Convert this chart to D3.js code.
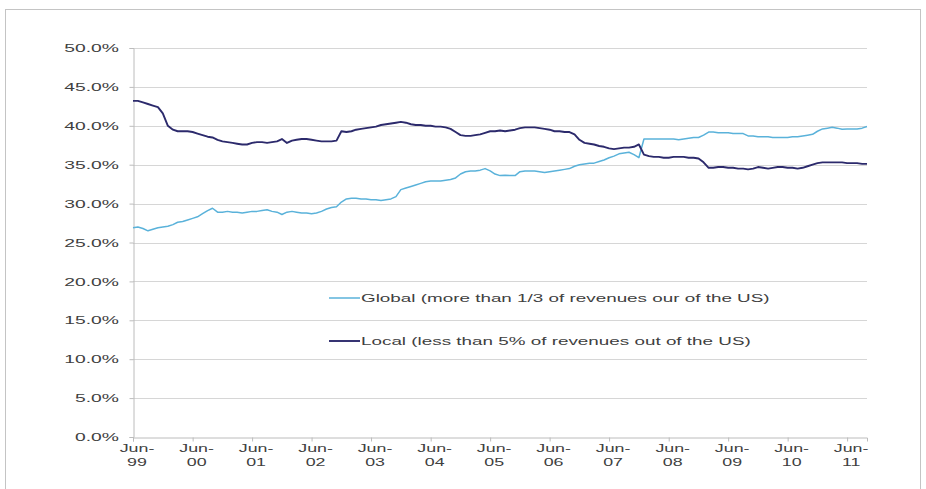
<!DOCTYPE html>
<html>
<head>
<meta charset="utf-8">
<script src="https://cdn.jsdelivr.net/npm/d3@7"></script>
<style>
  html, body { margin: 0; padding: 0; background: #fff; }
  svg { display: block; }
  text { font-family: "Liberation Sans", Arial, sans-serif; fill: #404040; }
</style>
</head>
<body>
<svg id="chart" width="926" height="489"></svg>
<script>
// Monthly series, Jun 1999 – Oct 2011 (share of total, in %)
const firstMonth = new Date(1999, 5, 1);
const lastMonth = new Date(2011, 9, 1);

const globalShare = [
  26.9, 27.0, 26.8, 26.5, 26.7, 26.9, 27.0, 27.1, 27.3, 27.6, 27.7, 27.9,
  28.1, 28.3, 28.7, 29.1, 29.4, 28.9, 28.9, 29.0, 28.9, 28.9, 28.8, 28.9,
  29.0, 29.0, 29.1, 29.2, 29.0, 28.9, 28.6, 28.9, 29.0, 28.9, 28.8, 28.8,
  28.7, 28.8, 29.0, 29.3, 29.5, 29.6, 30.2, 30.6, 30.7, 30.7, 30.6, 30.6,
  30.5, 30.5, 30.4, 30.5, 30.6, 30.9, 31.8, 32.0, 32.2, 32.4, 32.6, 32.8,
  32.9, 32.9, 32.9, 33.0, 33.1, 33.3, 33.8, 34.1, 34.2, 34.2, 34.3, 34.5,
  34.2, 33.8, 33.6, 33.65, 33.6, 33.6, 34.1, 34.2, 34.2, 34.2, 34.1, 34.0,
  34.1, 34.2, 34.3, 34.4, 34.5, 34.8, 35.0, 35.1, 35.2, 35.2, 35.4, 35.6,
  35.9, 36.1, 36.4, 36.5, 36.6, 36.3, 35.9, 38.3, 38.3, 38.3, 38.3, 38.3,
  38.3, 38.3, 38.2, 38.3, 38.4, 38.5, 38.5, 38.8, 39.2, 39.2, 39.1, 39.1,
  39.1, 39.0, 39.0, 39.0, 38.7, 38.7, 38.6, 38.6, 38.6, 38.5, 38.5, 38.5,
  38.5, 38.6, 38.6, 38.7, 38.8, 38.9, 39.3, 39.6, 39.7, 39.8, 39.7, 39.55,
  39.6, 39.6, 39.6, 39.7, 39.9
];

const localShare = [
  43.2, 43.2, 43.0, 42.8, 42.6, 42.4, 41.6, 40.0, 39.5, 39.3, 39.3, 39.3,
  39.2, 39.0, 38.8, 38.6, 38.5, 38.2, 38.0, 37.9, 37.8, 37.7, 37.6, 37.6,
  37.8, 37.9, 37.9, 37.8, 37.9, 38.0, 38.3, 37.8, 38.1, 38.2, 38.3, 38.3,
  38.2, 38.1, 38.0, 38.0, 38.0, 38.1, 39.3, 39.2, 39.3, 39.5, 39.6, 39.7,
  39.8, 39.9, 40.1, 40.2, 40.3, 40.4, 40.5, 40.4, 40.2, 40.1, 40.1, 40.0,
  40.0, 39.9, 39.9, 39.8, 39.6, 39.2, 38.8, 38.7, 38.7, 38.8, 38.9, 39.1,
  39.3, 39.3, 39.4, 39.3, 39.4, 39.5, 39.7, 39.8, 39.8, 39.8, 39.7, 39.6,
  39.5, 39.3, 39.3, 39.2, 39.2, 38.9, 38.2, 37.8, 37.7, 37.6, 37.4, 37.3,
  37.1, 37.0, 37.1, 37.2, 37.2, 37.3, 37.6, 36.3, 36.1, 36.0, 36.0, 35.9,
  35.9, 36.0, 36.0, 36.0, 35.9, 35.9, 35.8, 35.3, 34.6, 34.6, 34.7, 34.7,
  34.6, 34.6, 34.5, 34.5, 34.4, 34.5, 34.7, 34.6, 34.5, 34.6, 34.7, 34.7,
  34.6, 34.6, 34.5, 34.6, 34.8, 35.0, 35.2, 35.3, 35.3, 35.3, 35.3, 35.3,
  35.2, 35.2, 35.2, 35.1, 35.1
];

const seriesNames = [
  "Global (more than 1/3 of revenues our of the US)",
  "Local (less than 5% of revenues out of the US)"
];
const seriesColors = ["#5ab2da", "#2c2a6c"];

const yTickValues = [0, 5, 10, 15, 20, 25, 30, 35, 40, 45, 50];
const xTickLabels = [
  ["Jun-", "99"], ["Jun-", "00"], ["Jun-", "01"], ["Jun-", "02"], ["Jun-", "03"],
  ["Jun-", "04"], ["Jun-", "05"], ["Jun-", "06"], ["Jun-", "07"], ["Jun-", "08"],
  ["Jun-", "09"], ["Jun-", "10"], ["Jun-", "11"]
];

// ---- layout ----
const svg = d3.select("#chart");
const plot = { left: 133, right: 867, top: 48, bottom: 437 };
const labelSize = 11.5;
const wideY = 1.68;     // wide lettering on value labels
const wideLegend = 1.64;
const wideX = 1.55;     // wide lettering on date labels

const months = d3.timeMonth.range(firstMonth, d3.timeMonth.offset(lastMonth, 1));
const x = d3.scaleTime().domain([firstMonth, lastMonth]).range([plot.left, plot.right]);
const y = d3.scaleLinear().domain([0, 50]).range([plot.bottom, plot.top]);

// outer frame
svg.append("rect")
  .attr("x", 5.5).attr("y", 9.5)
  .attr("width", 915).attr("height", 490)
  .attr("fill", "none").attr("stroke", "#c4c4c4").attr("stroke-width", 1);

// horizontal gridlines
svg.append("g")
  .selectAll("line")
  .data(yTickValues.filter(v => v > 0))
  .join("line")
  .attr("x1", plot.left).attr("x2", plot.right)
  .attr("y1", d => Math.round(y(d)) + 0.5).attr("y2", d => Math.round(y(d)) + 0.5)
  .attr("stroke", "#d6d6d6").attr("stroke-width", 1);

// y axis with ticks
const yAxis = d3.axisLeft(y).tickValues(yTickValues).tickSize(4).tickFormat("");
const yAxisG = svg.append("g").attr("transform", `translate(${plot.left + 0.5},0)`).call(yAxis);
yAxisG.selectAll("path, line").attr("stroke", "#bcbcbc");

// y labels
const yFmt = d => d3.format(".1f")(d) + "%";
svg.append("g")
  .selectAll("text")
  .data(yTickValues)
  .join("text")
  .attr("transform", d => `translate(119,${y(d)}) scale(${wideY},1)`)
  .attr("text-anchor", "end")
  .attr("dy", "0.36em")
  .attr("font-size", labelSize)
  .text(yFmt);

// x axis with yearly ticks at June
const juneTicks = d3.range(xTickLabels.length).map(i => d3.timeYear.offset(firstMonth, i));
const xAxis = d3.axisBottom(x).tickValues(juneTicks).tickSize(4).tickFormat("");
const xAxisG = svg.append("g").attr("transform", `translate(0,${plot.bottom + 0.5})`).call(xAxis);
xAxisG.selectAll("path, line").attr("stroke", "#bcbcbc");

// x labels on two lines
const xLab = svg.append("g")
  .selectAll("g")
  .data(juneTicks)
  .join("g")
  .attr("transform", d => `translate(${x(d) + 4},0)`);
xLab.append("text")
  .attr("transform", `translate(0,452) scale(${wideX},1)`)
  .attr("text-anchor", "middle").attr("font-size", labelSize)
  .text((d, i) => xTickLabels[i][0]);
xLab.append("text")
  .attr("transform", `translate(0,466) scale(${wideX},1)`)
  .attr("text-anchor", "middle").attr("font-size", labelSize)
  .text((d, i) => xTickLabels[i][1]);

// lines
const line = d3.line()
  .x((d, i) => x(months[i]))
  .y(d => y(d));

const seriesData = [globalShare, localShare];
svg.append("g")
  .selectAll("path")
  .data(seriesData)
  .join("path")
  .attr("d", d => line(d))
  .attr("fill", "none")
  .attr("stroke", (d, i) => seriesColors[i])
  .attr("stroke-width", (d, i) => i === 0 ? 1.5 : 1.9)
  .attr("stroke-linejoin", "round");

// legend
const legendRows = [298, 341];
const lg = svg.append("g")
  .selectAll("g")
  .data(seriesNames)
  .join("g")
  .attr("transform", (d, i) => `translate(329,${legendRows[i]})`);
lg.append("line")
  .attr("x1", 0).attr("x2", 31).attr("y1", 0).attr("y2", 0)
  .attr("stroke", (d, i) => seriesColors[i])
  .attr("stroke-width", (d, i) => i === 0 ? 1.5 : 1.9);
lg.append("text")
  .attr("transform", `translate(32,0) scale(${wideLegend},1)`)
  .attr("dy", "0.36em")
  .attr("font-size", labelSize)
  .text(d => d);
</script>
</body>
</html>
